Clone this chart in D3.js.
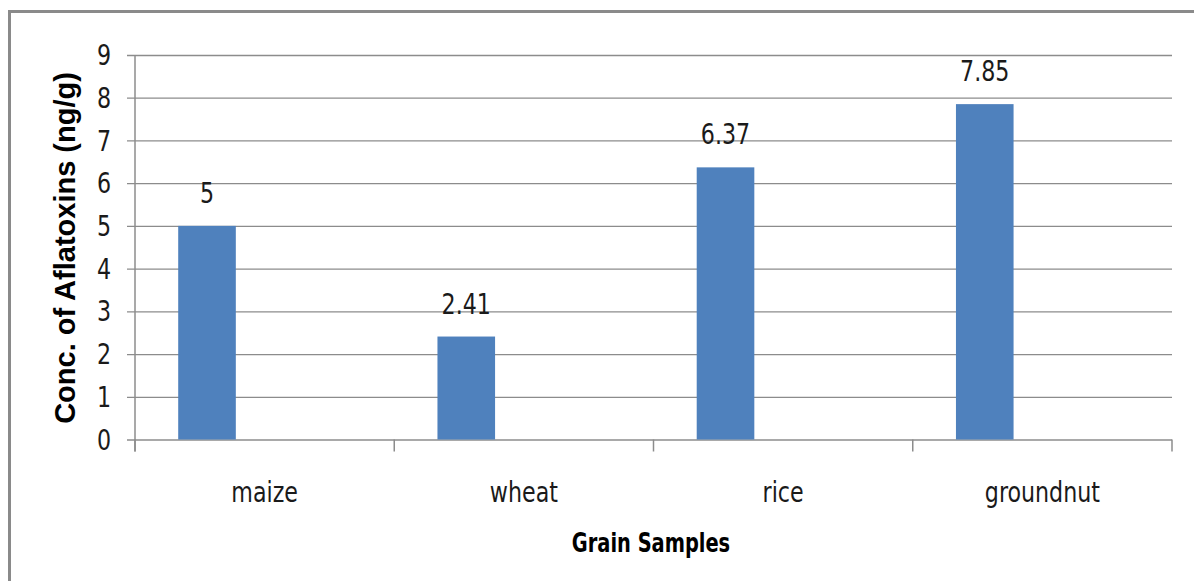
<!DOCTYPE html>
<html><head><meta charset="utf-8">
<script src="https://cdn.jsdelivr.net/npm/d3@7"></script>
<style>
html,body{margin:0;padding:0;background:#fff;}
svg{display:block;}
.h{font-family:"Liberation Sans Narrow","Arial Narrow","DejaVu Sans Condensed",sans-serif;}
</style></head>
<body>
<svg id="c" width="1194" height="581"></svg>
<script>
const categories = ["maize", "wheat", "rice", "groundnut"];
const values = [5, 2.41, 6.37, 7.85];
const valueLabels = ["5", "2.41", "6.37", "7.85"];
const yTicks = [0, 1, 2, 3, 4, 5, 6, 7, 8, 9];
const xTitle = "Grain Samples";
const yTitle = "Conc. of Aflatoxins (ng/g)";

(function () {
const svg = d3.select("#c");
const textColor = "#1a1a1a";
const gridColor = "#8c8c8c";
const sx = 0.88;
const at = (px, py, s) => `translate(${px},${py}) scale(${s || sx},1)`;

// outer frame
svg.append("rect").attr("x", 9.5).attr("y", 11.5).attr("width", 1250).attr("height", 650)
  .attr("fill", "none").attr("stroke", "#8a8a8a").attr("stroke-width", 3);

const pLeft = 135, pRight = 1172, pTop = 55, pBottom = 439.5;
const x = d3.scaleBand().domain(categories).range([pLeft, pRight]).padding(0);
const y = d3.scaleLinear().domain([0, 9]).range([pBottom, pTop]);

// gridlines + y ticks
const yAxis = d3.axisLeft(y).tickValues(yTicks).tickSize(-(pRight - pLeft)).tickSizeOuter(0).tickPadding(0).tickFormat("");
const gy = svg.append("g").attr("transform", `translate(${pLeft},0)`).call(yAxis);
gy.select(".domain").remove();
gy.selectAll(".tick line").attr("stroke", gridColor).attr("stroke-width", 1.3).attr("x1", -8);

// y tick labels
svg.append("g").selectAll("text").data(yTicks).join("text")
  .attr("class", "h")
  .attr("transform", d => at(111, y(d)))
  .attr("dy", "0.36em")
  .attr("text-anchor", "end").attr("font-size", 28).attr("fill", textColor)
  .text(d => d);

// y axis line
svg.append("line").attr("x1", pLeft).attr("x2", pLeft).attr("y1", pTop).attr("y2", pBottom + 12)
  .attr("stroke", gridColor).attr("stroke-width", 1.5);

// x axis ticks (category boundaries)
const bounds = categories.map(c => x(c)).concat([x(categories[categories.length - 1]) + x.bandwidth()]);
svg.append("g").selectAll("line").data(bounds).join("line")
  .attr("x1", d => d).attr("x2", d => d).attr("y1", pBottom).attr("y2", pBottom + 12)
  .attr("stroke", gridColor).attr("stroke-width", 1.5);

// bars: first of three slots per category (Excel-style gap width)
const slot = d3.scaleBand().domain([0, 1, 2]).range([0, x.bandwidth()]).paddingInner(0).paddingOuter(0.75);
svg.append("g").selectAll("rect").data(values).join("rect")
  .attr("x", (d, i) => x(categories[i]) + slot(0))
  .attr("width", slot.bandwidth())
  .attr("y", d => y(d))
  .attr("height", d => y(0) - y(d))
  .attr("fill", "#4F81BD");

// value labels
svg.append("g").selectAll("text").data(values).join("text")
  .attr("class", "h")
  .attr("transform", (d, i) => at(x(categories[i]) + slot(0) + slot.bandwidth() / 2, y(d) - 23))
  .attr("text-anchor", "middle").attr("font-size", 28).attr("fill", textColor)
  .text((d, i) => valueLabels[i]);

// category labels
svg.append("g").selectAll("text").data(categories).join("text")
  .attr("class", "h")
  .attr("transform", d => at(x(d) + x.bandwidth() / 2, 502))
  .attr("text-anchor", "middle").attr("font-size", 28).attr("fill", textColor)
  .text(d => d);

// axis titles
svg.append("text").attr("class", "h")
  .attr("transform", at(651, 552, 0.83))
  .attr("text-anchor", "middle")
  .attr("font-size", 26).attr("font-weight", "bold").attr("fill", "#000")
  .text(xTitle);

svg.append("text")
  .attr("transform", "translate(75,248) rotate(-90)")
  .attr("text-anchor", "middle")
  .attr("font-family", "'Liberation Sans', Arial, sans-serif")
  .attr("font-size", 29).attr("font-weight", "bold").attr("fill", "#000")
  .text(yTitle);
})();
</script>
</body></html>
